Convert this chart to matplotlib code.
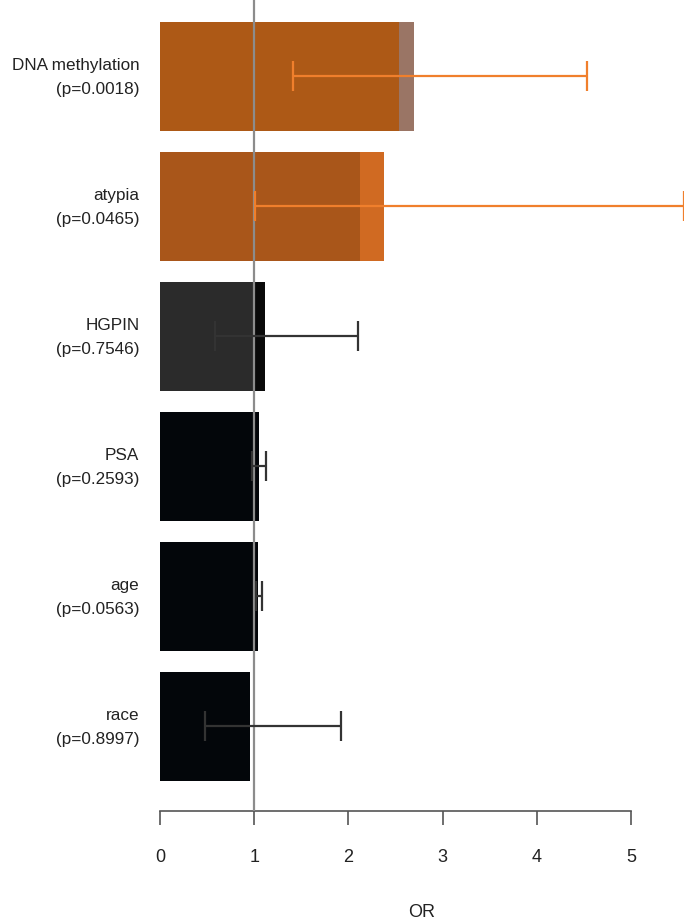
"""
Odds ratios with 95% CI for predictors of cancer on repeat biopsy
"""

import numpy as np
import matplotlib.pyplot as plt

# predictors, top to bottom
labels = ['DNA methylation', 'atypia', 'HGPIN', 'PSA', 'age', 'race']
pvalues = ['0.0018', '0.0465', '0.7546', '0.2593', '0.0563', '0.8997']
odds_ratio = [2.70, 2.38, 1.11, 1.05, 1.04, 0.96]
# inner (darker) part of the stacked bar
odds_inner = [2.54, 2.12, 1.01, 1.01, 1.01, 0.96]
ci_low = [1.41, 1.01, 0.58, 0.98, 1.02, 0.48]
ci_high = [4.53, 5.56, 2.10, 1.12, 1.08, 1.92]

inner_colors = ['#ad5916', '#a9561a', '#2b2b2b', '#03060a', '#03060a', '#03060a']
outer_colors = ['#9a7565', '#d06a22', '#0a0a0a', '#020408', '#020408', '#020408']
err_colors = ['#f07f2c', '#f07f2c', '#333333', '#333333', '#333333', '#333333']

plt.rcParams['font.family'] = ['Liberation Sans', 'DejaVu Sans']

fig = plt.figure(figsize=(6.84, 9.2), dpi=100)
ax = fig.add_axes([160 / 684, 108 / 920, 524 / 684, 812 / 920])

y = np.arange(len(labels))
h = 0.84

ax.barh(y, odds_ratio, height=h, color=outer_colors, edgecolor='none', zorder=1)
ax.barh(y, odds_inner, height=h, color=inner_colors, edgecolor='none', zorder=2)

# reference line at OR = 1
ax.axvline(1, color='#8c8c8c', lw=1.6, zorder=3)

for i in range(len(labels)):
    ax.errorbar(odds_ratio[i], y[i],
                xerr=[[odds_ratio[i] - ci_low[i]], [ci_high[i] - odds_ratio[i]]],
                fmt='none', ecolor=err_colors[i], elinewidth=1.6,
                capsize=10.5, capthick=1.6, zorder=4, clip_on=False)
    ax.text(-0.22, y[i], '{}\n(p={})'.format(labels[i], pvalues[i]),
            ha='right', va='center', fontsize=12.3, color='#222222',
            linespacing=1.75)

ax.set_xlim(0, 524 / 94.2)
ax.set_ylim(len(labels) - 1 + 0.65, -0.596)

for s in ['top', 'right', 'left']:
    ax.spines[s].set_visible(False)
ax.spines['bottom'].set_bounds(0, 5)
ax.spines['bottom'].set_color('#555555')
ax.spines['bottom'].set_linewidth(1.2)
ax.set_yticks([])
ax.set_xticks(range(6))
ax.tick_params(axis='x', length=10, width=1.2, color='#555555',
               labelsize=13, pad=17, labelcolor='#222222')
ax.set_xlabel('OR', fontsize=13, labelpad=27, color='#222222')

fig.savefig('out.png', dpi=100)
